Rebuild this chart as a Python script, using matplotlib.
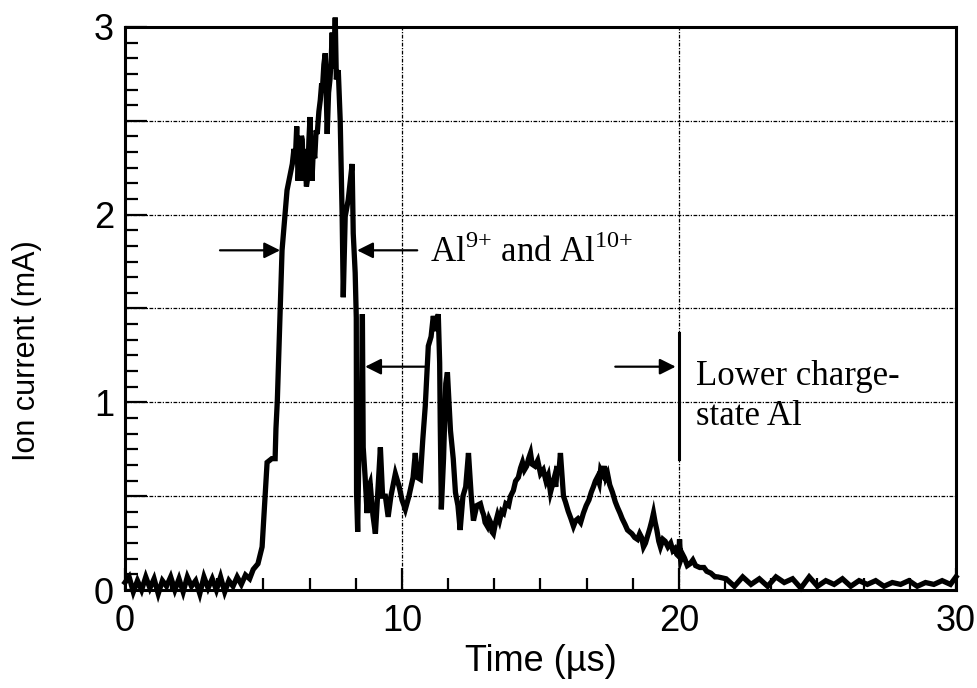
import numpy as np
import matplotlib
matplotlib.use('Agg')
import matplotlib.pyplot as plt
from matplotlib.ticker import MultipleLocator, FuncFormatter

# ion current trace (time in us, current in mA)
t_base = [0.0, 0.15, 0.3, 0.45, 0.6, 0.75, 0.9, 1.05, 1.2, 1.35, 1.5, 1.65, 1.8, 1.95, 2.1,
          2.25, 2.4, 2.55, 2.7, 2.85, 3.0, 3.15, 3.3, 3.45, 3.6, 3.75, 3.9, 4.05, 4.2, 4.35, 4.5]
i_base = [0.04, 0.07, -0.01, 0.05, 0.0, 0.07, 0.01, 0.06, -0.02, 0.05, 0.02, 0.07, 0.0, 0.06, -0.01,
          0.07, 0.02, 0.05, -0.02, 0.07, 0.01, 0.06, 0.0, 0.07, -0.01, 0.05, 0.02, 0.07, 0.03, 0.08, 0.06]

t_rise = [4.63, 4.8, 4.95, 5.06, 5.13, 5.3, 5.42, 5.45, 5.5, 5.6, 5.67, 5.78, 5.85, 6.04, 6.1,
          6.15, 6.2, 6.23, 6.25, 6.3, 6.32, 6.37, 6.4, 6.44, 6.47, 6.5, 6.55, 6.6, 6.64, 6.68,
          6.72, 6.75, 6.8, 6.85, 6.9, 6.94, 7.0, 7.05, 7.1, 7.12, 7.18, 7.23, 7.27, 7.3, 7.35,
          7.4, 7.45, 7.48, 7.52, 7.55, 7.59, 7.63, 7.7, 7.77, 7.84, 7.88, 7.95, 8.06, 8.2, 8.24,
          8.31, 8.35]
i_rise = [0.11, 0.14, 0.23, 0.5, 0.68, 0.7, 0.7, 0.86, 1.01, 1.47, 1.81, 2.01, 2.13, 2.27, 2.35,
          2.3, 2.47, 2.3, 2.18, 2.35, 2.25, 2.42, 2.4, 2.18, 2.35, 2.3, 2.15, 2.2, 2.4, 2.52,
          2.3, 2.18, 2.35, 2.3, 2.45, 2.43, 2.55, 2.61, 2.7, 2.65, 2.8, 2.86, 2.6, 2.43, 2.65,
          2.72, 2.85, 2.97, 2.78, 2.8, 3.05, 2.72, 2.77, 2.5, 1.99, 1.56, 1.99, 2.08, 2.27, 1.9,
          1.69, 1.45]

t_decay = [8.36, 8.4, 8.45, 8.52, 8.57, 8.6, 8.67, 8.74, 8.8, 8.85, 8.95, 9.04, 9.12, 9.22, 9.3,
           9.4, 9.5, 9.6, 9.76, 9.9, 10.0, 10.12, 10.25, 10.4, 10.48, 10.55, 10.66, 10.75, 10.84, 10.95,
           11.05, 11.13, 11.22, 11.31, 11.36, 11.38, 11.42, 11.5, 11.58, 11.64, 11.75, 11.85, 11.93, 12.02, 12.1,
           12.2, 12.3, 12.4, 12.5, 12.58, 12.7, 12.83, 12.9]
i_decay = [0.52, 0.31, 0.8, 0.75, 1.47, 0.76, 0.6, 0.41, 0.55, 0.57, 0.4, 0.3, 0.5, 0.76, 0.5,
           0.5, 0.39, 0.5, 0.62, 0.55, 0.48, 0.43, 0.5, 0.6, 0.73, 0.6, 0.59, 0.8, 0.98, 1.3,
           1.35, 1.46, 1.38, 1.47, 1.21, 0.9, 0.43, 0.7, 1.1, 1.16, 0.85, 0.7, 0.52, 0.45, 0.32,
           0.5, 0.55, 0.73, 0.5, 0.37, 0.45, 0.46, 0.42]

t_late = [12.95, 13.0, 13.08, 13.14, 13.2, 13.25, 13.3, 13.38, 13.45, 13.52, 13.6, 13.67, 13.75, 13.85, 13.92,
          14.02, 14.1, 14.2, 14.28, 14.35, 14.42, 14.5, 14.57, 14.64, 14.7, 14.8, 14.9, 15.0, 15.1, 15.2,
          15.28, 15.36, 15.43, 15.5, 15.55, 15.61, 15.66, 15.72, 15.78, 15.83, 15.9, 16.0, 16.1, 16.19, 16.27,
          16.35, 16.45, 16.55, 16.65, 16.75, 16.83, 16.91, 16.98, 17.05, 17.12, 17.17, 17.24, 17.3, 17.36, 17.42,
          17.5, 17.6, 17.7, 17.78, 17.87, 17.95, 18.05, 18.14, 18.22, 18.3, 18.4, 18.5, 18.58, 18.65, 18.72,
          18.79, 18.87, 18.95, 19.02, 19.08, 19.14, 19.2, 19.27, 19.33, 19.42, 19.5, 19.6, 19.7, 19.78, 19.85,
          19.92, 19.99, 20.02, 20.06, 20.13, 20.2, 20.3, 20.4, 20.5, 20.6, 20.75, 20.9, 21.0, 21.15, 21.3]
i_late = [0.40, 0.36, 0.34, 0.38, 0.36, 0.31, 0.30, 0.36, 0.40, 0.37, 0.42, 0.41, 0.46, 0.45, 0.50,
          0.53, 0.58, 0.60, 0.65, 0.68, 0.64, 0.66, 0.70, 0.73, 0.67, 0.66, 0.69, 0.62, 0.64, 0.58,
          0.61, 0.52, 0.56, 0.60, 0.55, 0.66, 0.62, 0.73, 0.60, 0.50, 0.47, 0.42, 0.38, 0.34, 0.37,
          0.38, 0.36, 0.41, 0.45, 0.48, 0.52, 0.55, 0.58, 0.60, 0.57, 0.64, 0.62, 0.66, 0.60, 0.62,
          0.56, 0.52, 0.47, 0.44, 0.41, 0.38, 0.35, 0.32, 0.31, 0.30, 0.28, 0.27, 0.30, 0.28, 0.23,
          0.25, 0.29, 0.33, 0.37, 0.41, 0.36, 0.32, 0.26, 0.23, 0.27, 0.26, 0.23, 0.25, 0.21, 0.22,
          0.19, 0.18, 0.27, 0.16, 0.19, 0.17, 0.13, 0.14, 0.16, 0.13, 0.12, 0.12, 0.10, 0.09, 0.07]

t_tail = [21.4, 21.7, 22.0, 22.3, 22.6, 22.9, 23.2, 23.5, 23.8, 24.1, 24.4, 24.7, 25.0, 25.3, 25.6,
          25.9, 26.2, 26.5, 26.8, 27.1, 27.4, 27.7, 28.0, 28.3, 28.6, 28.9, 29.2, 29.5, 29.8, 30.0]
i_tail = [0.07, 0.06, 0.02, 0.07, 0.03, 0.06, 0.02, 0.07, 0.04, 0.06, 0.01, 0.07, 0.02, 0.05, 0.03,
          0.06, 0.02, 0.05, 0.03, 0.05, 0.02, 0.04, 0.03, 0.05, 0.02, 0.04, 0.03, 0.05, 0.03, 0.07]

# marker line at 20 us for the lower charge-state group
marker_t = 20.0
marker_i = [0.70, 1.37]

t_all = np.array(t_base + t_rise + t_decay + t_late + t_tail)
i_all = np.array(i_base + i_rise + i_decay + i_late + i_tail)

sans = ['Liberation Sans', 'DejaVu Sans']
serif = ['Liberation Serif', 'DejaVu Serif']

fig = plt.figure(figsize=(9.78, 6.88), dpi=100)
ax = fig.add_axes([0.1278, 0.1424, 0.8497, 0.8184])

ax.plot(t_all, i_all, color='black', linewidth=3.8, clip_on=False, zorder=3,
        solid_joinstyle='miter')
ax.plot([marker_t, marker_t], marker_i, color='black', linewidth=2.2, zorder=3)

ax.set_xlim(0, 30)
ax.set_ylim(0, 3)

ax.xaxis.set_major_locator(MultipleLocator(10))
ax.xaxis.set_minor_locator(MultipleLocator(10 / 6))
ax.yaxis.set_major_locator(MultipleLocator(0.5))
ax.yaxis.set_minor_locator(MultipleLocator(1 / 12))
ax.yaxis.set_major_formatter(FuncFormatter(lambda v, p: '%d' % v if abs(v - round(v)) < 1e-6 else ''))

ax.grid(True, which='major', color='black', linewidth=0.9, linestyle=(0, (3, 1.2, 1, 1.2)))
ax.tick_params(which='both', direction='in', width=1.6, top=False, right=False)
ax.tick_params(which='major', length=16, labelsize=26)
ax.tick_params(axis='x', which='major', pad=10)
ax.tick_params(axis='y', which='major', pad=8)
ax.tick_params(which='minor', length=9)
for lab in ax.get_xticklabels() + ax.get_yticklabels():
    lab.set_family(sans)
for s in ax.spines.values():
    s.set_linewidth(2.2)

ax.set_xlabel('Time (µs)', fontsize=26, family=sans, labelpad=4)
ax.set_ylabel('Ion current (mA)', fontsize=22, family=sans)
ax.yaxis.set_label_coords(-0.1, 0.425)

arrow = dict(arrowstyle='-|>', color='black', lw=1.6, mutation_scale=24, shrinkA=0, shrinkB=0)
ax.annotate('', xy=(5.6, 1.81), xytext=(3.43, 1.81), arrowprops=arrow)
ax.annotate('', xy=(8.38, 1.81), xytext=(10.55, 1.81), arrowprops=arrow)
ax.annotate('', xy=(8.67, 1.19), xytext=(10.84, 1.19), arrowprops=arrow)
ax.annotate('', xy=(19.88, 1.19), xytext=(17.7, 1.19), arrowprops=arrow)

ax.text(11.0, 1.80, r'Al$^{\mathregular{9{+}}}$ and Al$^{\mathregular{10{+}}}$', fontsize=25,
        family=serif, va='center', ha='left')
ax.text(20.6, 1.03, 'Lower charge-\nstate Al', fontsize=25, family=serif,
        va='center', ha='left', linespacing=1.3)

fig.savefig('out.png', dpi=100)
